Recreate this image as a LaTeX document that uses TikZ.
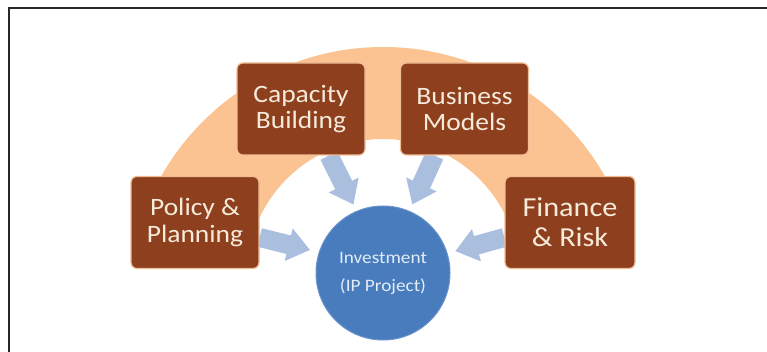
\documentclass[tikz,border=0pt]{standalone}
\usepackage{fontspec}
\setmainfont{Carlito}
\newfontfamily\labelfont{Carlito}[FakeStretch=1.1]
\usetikzlibrary{arrows.meta,calc}
\definecolor{ringfill}{RGB}{250,195,145}
\definecolor{boxfill}{RGB}{142,64,30}
\definecolor{boxedge}{RGB}{240,190,150}
\definecolor{boxtext}{RGB}{246,234,218}
\definecolor{hubfill}{RGB}{72,124,189}
\definecolor{hubedge}{RGB}{105,148,203}
\definecolor{hubtext}{RGB}{228,236,246}
\definecolor{flow}{RGB}{170,190,222}
\definecolor{frame}{RGB}{40,40,40}
\pgfdeclarelayer{bg}
\pgfsetlayers{bg,main}
\tikzset{
  topic/.style={draw=boxedge, line width=1.2pt, fill=boxfill, rounded corners=6pt,
    minimum width=128pt, minimum height=92pt, inner sep=0pt, align=center,
    text=boxtext, font=\labelfont\fontsize{25}{26.5}\selectfont},
  bigtopic/.style={topic, minimum width=130pt, font=\labelfont\fontsize{27.5}{30}\selectfont},
  hub/.style={circle, draw=hubedge, line width=1pt, fill=hubfill, minimum size=134pt,
    inner sep=0pt, align=center, text=hubtext, font=\labelfont\fontsize{17.5}{28}\selectfont},
  flowarrow/.style={draw=flow, line width=19pt,
    -{Triangle[length=22pt,width=32pt]}, shorten >=#1},
}
\begin{document}
\begin{tikzpicture}[x=1pt,y=-1pt]
\useasboundingbox (0,0) rectangle (767,352);
% page frame
\draw[frame, line width=1.1pt] (9,352) -- (9,8) -- (767,8);

% topics and hub
\node[topic]    (cap) at (301,109)   {Capacity\\Building};
\node[topic]    (bus) at (464.5,109) {Business\\Models};
\node[topic]    (pol) at (195,222.5) {Policy \&\\Planning};
\node[bigtopic] (fin) at (570,222.5) {Finance\\\& Risk};
\node[hub]      (inv) at (383,273)   {Investment\\(IP Project)};

\begin{pgfonlayer}{bg}
  % half ring behind the topics
  \begin{scope}
    \clip (0,0) rectangle (767,250);
    \fill[ringfill, even odd rule] (383,302) circle[radius=255pt] (383,275) circle[radius=136pt];
  \end{scope}
  % flows into the hub
  \draw[flowarrow=9pt] ($(pol.east)+(0,15)$) -- (inv.162);
  \draw[flowarrow=8pt] ($(fin.west)+(0,15)$) -- (inv.17);
  \draw[flowarrow=7pt] ($(cap.south)+(28,0)$) -- (inv.113);
  \draw[flowarrow=7pt] ($(bus.south)+(-30,0)$) -- (inv.67);
\end{pgfonlayer}
\end{tikzpicture}
\end{document}
